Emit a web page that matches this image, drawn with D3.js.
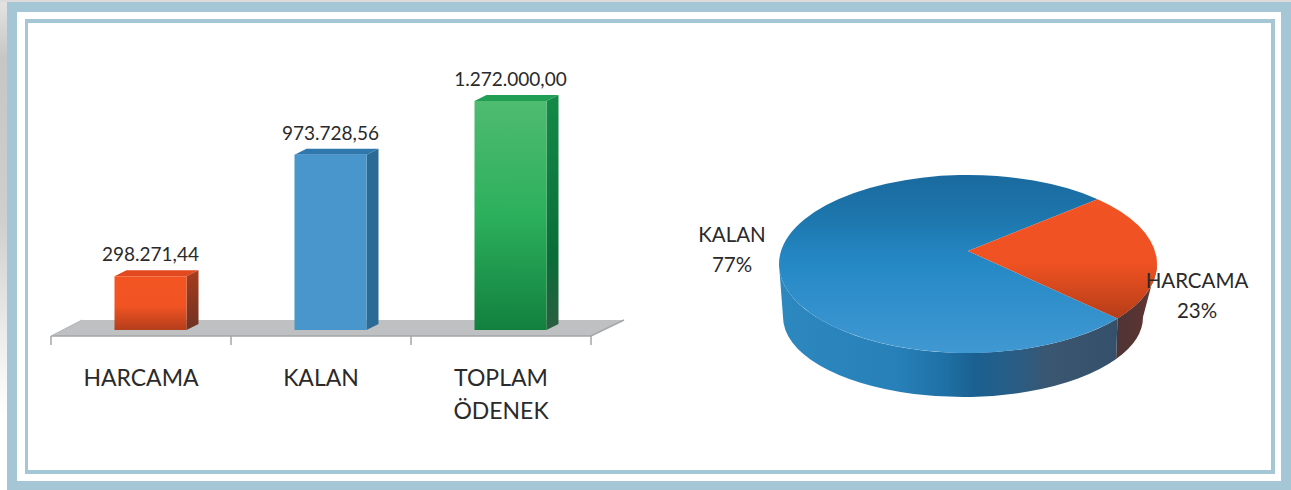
<!DOCTYPE html>
<html><head><meta charset="utf-8">
<script src="https://cdn.jsdelivr.net/npm/d3@7"></script>
<style>html,body{margin:0;padding:0;background:#fff}svg{display:block}text{font-family:Lato,"Open Sans",sans-serif;fill:#2a2a2a}</style>
</head><body><svg id="c" width="1291" height="490"></svg>
<script>
const categories=["HARCAMA","KALAN","TOPLAM ÖDENEK"];
const barValues=[298271.44,973728.56,1272000];
const barLabels=["298.271,44","973.728,56","1.272.000,00"];
const pieNames=["HARCAMA","KALAN"];
const pieValues=[298271.44,973728.56];
const piePercent=["23%","77%"];

const svg=d3.select("#c"),defs=svg.append("defs");
function grad(id,stops,h){
  const g=defs.append("linearGradient").attr("id",id).attr("x1",0).attr("y1",0).attr("x2",h?1:0).attr("y2",h?0:1);
  stops.forEach(s=>g.append("stop").attr("offset",s[0]).attr("stop-color",s[1]));
  return `url(#${id})`;
}
// page + frame
const shade=grad("shade",[[0,"#e4e4e4"],[.12,"#c6c6c6"],[.45,"#cfcfcf"],[.7,"#eeeeee"],[.85,"#ffffff"]]);
svg.append("rect").attr("width",7).attr("height",490).attr("fill",shade);
svg.append("rect").attr("width",1291).attr("height",2).attr("fill","#dcdcdc");
const band="#a5c6d5";
svg.append("path").attr("fill",band).attr("fill-rule","evenodd")
  .attr("d","M7,2H1291V490H7Z M17,12V481H1281V12Z");
svg.append("path").attr("fill",band).attr("fill-rule","evenodd")
  .attr("d","M25,19H1275V474H25Z M28,23V470H1271V23Z");

// bars
const x=d3.scaleBand().domain(categories).range([51,591]).paddingInner(.6).paddingOuter(.3);
const y=d3.scaleLinear().domain([0,1272000]).range([330,101]);
const shift=9.5,dx=12,dy=6;
svg.append("path").attr("d","M51,336L82,320H624L591,336Z").attr("fill","#bfc0c2");
svg.append("path").attr("d","M51,336H591L624,320").attr("fill","none").attr("stroke","#a4a6a9").attr("stroke-width",1.5);
svg.append("path").attr("d","M51,336L82,320").attr("fill","none").attr("stroke","#b4b5b7").attr("stroke-width",1);
const tickPos=categories.map(c=>x(c)+x.bandwidth()/2-x.step()/2).concat([x(categories[2])+x.bandwidth()/2+x.step()/2]);
svg.append("g").selectAll("line").data(tickPos).join("line")
  .attr("x1",d=>d).attr("x2",d=>d).attr("y1",336).attr("y2",345).attr("stroke","#a4a6a9").attr("stroke-width",1.5);
const styles=[
 {front:grad("b0",[[0,"#f35422"],[.55,"#f15323"],[1,"#b53e1c"]]),side:grad("b0s",[[0,"#a83c1c"],[1,"#6e3325"]]),top:"#e2491f"},
 {front:"#4896cc",side:"#2c6a96",top:"#2f78ae"},
 {front:grad("b2",[[0,"#4fbb70"],[.5,"#2cb05c"],[1,"#12803f"]]),side:grad("b2s",[[0,"#148a48"],[.7,"#0a6c38"],[1,"#2c5e40"]]),top:"#1f9e54"}
];
const g=svg.append("g").selectAll("g").data(categories).join("g");
g.append("path").attr("fill",(d,i)=>styles[i].top).attr("d",(d,i)=>{
  const l=x(d)+shift,r=l+x.bandwidth(),t=y(barValues[i]);
  return `M${l},${t}L${l+dx},${t-dy}H${r+dx}L${r},${t}Z`;});
g.append("path").attr("fill",(d,i)=>styles[i].side).attr("d",(d,i)=>{
  const r=x(d)+shift+x.bandwidth(),t=y(barValues[i]);
  return `M${r},${t}L${r+dx},${t-dy}V${y(0)-dy}L${r},${y(0)}Z`;});
g.append("rect").attr("fill",(d,i)=>styles[i].front)
  .attr("x",d=>x(d)+shift).attr("width",x.bandwidth())
  .attr("y",(d,i)=>y(barValues[i])).attr("height",(d,i)=>y(0)-y(barValues[i]));
g.append("text").attr("text-anchor","middle").attr("font-size",19)
  .attr("x",d=>x(d)+shift+x.bandwidth()/2).attr("y",(d,i)=>y(barValues[i])-15).text((d,i)=>barLabels[i]);
const axis=svg.append("g").attr("transform","translate(0,336)").call(d3.axisBottom(x).tickSize(0).tickPadding(0));
axis.select(".domain").remove();
axis.selectAll("text").attr("font-size",23).attr("fill","#2a2a2a").style("font-family","Lato").each(function(d){
  const t=d3.select(this),w=d.split(" ");t.text(null).attr("y",0).attr("dy",null);
  w.forEach((s,i)=>t.append("tspan").attr("x",0).attr("y",50+i*33).text(s));
});

// pie
const topE={cx:968,cy:264,rx:189,ry:89,ax:968,ay:251};
const bot={cx:963,cy:317,rx:180,ry:80};
const pie=d3.pie().sort(null).startAngle(43.3*Math.PI/180).endAngle((43.3+360)*Math.PI/180)(pieValues);
const P=(e,a)=>[e.cx+e.rx*Math.sin(a),e.cy-e.ry*Math.cos(a)];
const harc=pie[0];
const seam=harc.endAngle, seamB=seam-6*Math.PI/180;
const A=(e,p,sw,lg=0)=>`A${e.rx},${e.ry} 0 ${lg} ${sw} ${p[0]},${p[1]}`;
const right=Math.PI/2,leftA=3*Math.PI/2;
const pts={s:P(topE,seam),sb:P(bot,seamB),r:P(topE,right),rb:P(bot,right),l:P(topE,leftA),lb:P(bot,leftA),h0:P(topE,harc.startAngle)};
// sides
const sideBlue=grad("sb",[[0,"#2e88c0"],[.35,"#2780b8"],[.5,"#1e6fa3"],[.58,"#1a6090"],[.7,"#2a5d85"],[.8,"#3a5670"],[1,"#35506a"]],true);
const sideRed=grad("sr",[[0,"#4e3436"],[.6,"#5a3433"],[1,"#6d3a30"]],true);
svg.append("path").attr("fill",sideRed)
  .attr("d",`M${pts.r}${A(topE,pts.s,1)}L${pts.sb}${A(bot,pts.rb,0)}Z`);
svg.append("path").attr("fill",sideBlue)
  .attr("d",`M${pts.s}${A(topE,pts.l,1)}L${pts.lb}${A(bot,pts.sb,0)}Z`);
// top face
const faceBlue=grad("fb",[[0,"#1a6a9e"],[.25,"#1d77ae"],[.5,"#2589c6"],[1,"#4098d2"]]);
const faceRed=grad("fr",[[0,"#f25324"],[.55,"#ee5122"],[1,"#b53d18"]]);
const apex=[topE.ax,topE.ay];
svg.append("path").attr("fill",faceBlue)
  .attr("d",`M${apex}L${pts.s}${A(topE,pts.h0,1,1)}Z`);
svg.append("path").attr("fill",faceRed)
  .attr("d",`M${apex}L${pts.h0}${A(topE,pts.s,1)}Z`);
// pie labels
const pl=svg.append("g").attr("text-anchor","middle").attr("font-size",20.5);
const lp=[[1197,288,318],[732,242,272]];
pieNames.forEach((n,i)=>{
  pl.append("text").attr("x",lp[i][0]).attr("y",lp[i][1]).text(n);
  pl.append("text").attr("x",lp[i][0]).attr("y",lp[i][2]).text(piePercent[i]);
});
</script></body></html>
